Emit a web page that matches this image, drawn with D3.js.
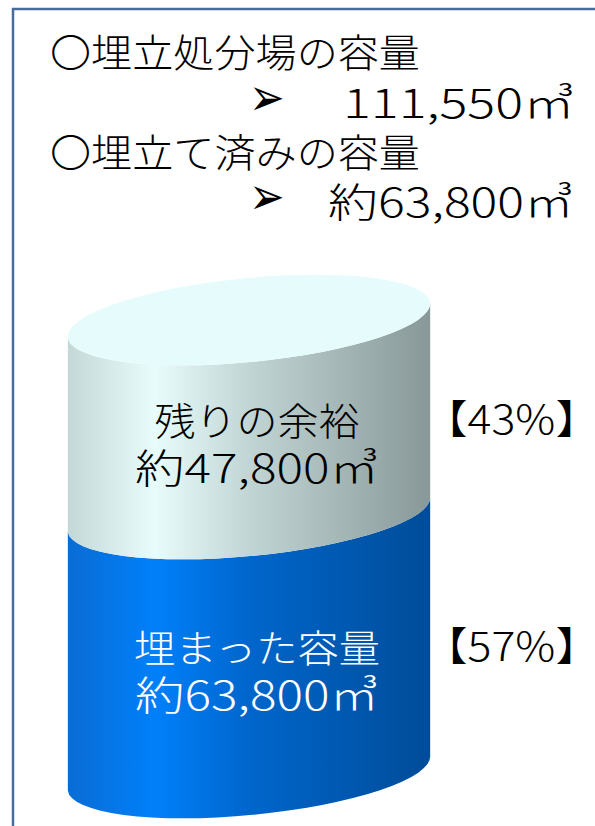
<!DOCTYPE html>
<html>
<head>
<meta charset="utf-8">
<script src="https://cdn.jsdelivr.net/npm/d3@7"></script>
<style>
  html, body { margin: 0; padding: 0; background: #fff; }
  svg { display: block; }
  text { font-family: "Noto Sans CJK JP", "Noto Sans", sans-serif; font-weight: 300; }
</style>
</head>
<body>
<div id="chart"></div>
<script>
//! ===== 0. Data =====
const headerLabels = ["〇埋立処分場の容量", "〇埋立て済みの容量"];
const headerValues = ["111,550㎥", "約63,800㎥"];

// bottom to top
const segmentNames = ["埋まった容量", "残りの余裕"];
const segmentVolumes = [63800, 47800];
const segmentValueLabels = ["約63,800㎥", "約47,800㎥"];
const segmentShares = ["【57%】", "【43%】"];

//! ===== I. Setup =====
const width = 595, height = 826;

const svg = d3.select("#chart")
    .append("svg")
    .attr("width", width)
    .attr("height", height);

// frame (runs off the right and bottom edges)
svg.append("rect")
    .attr("x", 13).attr("y", 9)
    .attr("width", 620).attr("height", 840)
    .attr("fill", "none")
    .attr("stroke", "#4a6c9c")
    .attr("stroke-width", 2.5);

// gradients for the cylinder sides
const defs = svg.append("defs");
function addGradient(id, stops){
    const g = defs.append("linearGradient")
        .attr("id", id)
        .attr("x1", "0%").attr("x2", "100%")
        .attr("y1", "0%").attr("y2", "0%");
    stops.forEach(([o, c]) => g.append("stop").attr("offset", o).attr("stop-color", c));
}
addGradient("grad-fill", [["0%", "#0a6cd4"], ["24%", "#0080fa"], ["50%", "#0066cc"], ["100%", "#004c98"]]);
addGradient("grad-free", [["0%", "#c4d8d8"], ["24%", "#e8fcfc"], ["50%", "#c2d5d5"], ["100%", "#889898"]]);
const sideFills = ["url(#grad-fill)", "url(#grad-free)"];
const textColors = ["#fff", "#000"];

//! ===== II. Scales =====
const total = d3.sum(segmentVolumes);
const y = d3.scaleLinear()
    .domain([0, total])
    .range([773, 320]);

// ellipse of the cylinder
const cx = 249, rx = 182, ry = 42, tilt = -5.5;
const rad = tilt * Math.PI / 180;
const dx = rx * Math.cos(rad), dy = rx * Math.sin(rad);

function sidePath(yLow, yHigh){
    const L = (yc) => [cx - dx, yc - dy];
    const R = (yc) => [cx + dx, yc + dy];
    const [lx1, ly1] = L(yHigh), [lx0, ly0] = L(yLow);
    const [rx0, ry0] = R(yLow), [rx1, ry1] = R(yHigh);
    return `M${lx1},${ly1} L${lx0},${ly0} ` +
        `A${rx},${ry} ${tilt} 0 0 ${rx0},${ry0} ` +
        `L${rx1},${ry1} ` +
        `A${rx},${ry} ${tilt} 0 1 ${lx1},${ly1} Z`;
}

//! ===== III. Cylinder =====
const stacked = [];
let acc = 0;
segmentVolumes.forEach((v, i) => {
    stacked.push({ i, y0: acc, y1: acc + v });
    acc += v;
});

svg.selectAll("path.side")
    .data(stacked)
    .enter()
    .append("path")
    .attr("class", "side")
    .attr("d", d => sidePath(y(d.y0), y(d.y1)))
    .attr("fill", d => sideFills[d.i]);

// top cap
svg.append("ellipse")
    .attr("cx", cx).attr("cy", y(total))
    .attr("rx", rx).attr("ry", ry)
    .attr("transform", `rotate(${tilt},${cx},${y(total)})`)
    .attr("fill", "#e6fcfc");

// labels inside the cylinder
stacked.forEach(d => {
    const mid = (y(d.y0) + y(d.y1)) / 2;
    svg.append("text")
        .attr("x", 257).attr("y", mid + 18)
        .attr("text-anchor", "middle")
        .attr("font-size", 38)
        .attr("lengthAdjust", "spacingAndGlyphs")
        .attr("textLength", d.i === 0 ? 246 : 205)
        .attr("fill", textColors[d.i])
        .text(segmentNames[d.i]);
    svg.append("text")
        .attr("x", 257).attr("y", mid + 66)
        .attr("text-anchor", "middle")
        .attr("font-size", 40)
        .attr("textLength", 244)
        .attr("lengthAdjust", "spacingAndGlyphs")
        .attr("fill", textColors[d.i])
        .text(segmentValueLabels[d.i]);
    svg.append("text")
        .attr("x", 423).attr("y", mid + 17)
        .attr("font-size", 40)
        .attr("textLength", 177)
        .attr("lengthAdjust", "spacingAndGlyphs")
        .attr("fill", "#000")
        .text(segmentShares[d.i]);
});

//! ===== IV. Header =====
const headerY = [67, 167];
const valueY = [118, 217];
const valueX = [343, 328];
const valueLen = [232, 246];

headerLabels.forEach((t, i) => {
    svg.append("text")
        .attr("x", 50).attr("y", headerY[i])
        .attr("font-size", 39)
        .attr("textLength", 370)
        .attr("lengthAdjust", "spacingAndGlyphs")
        .attr("fill", "#000")
        .text(t);
    svg.append("text")
        .attr("x", 249).attr("y", valueY[i] - 3)
        .attr("font-family", "DejaVu Sans")
        .attr("font-size", 52)
        .attr("textLength", 36)
        .attr("lengthAdjust", "spacingAndGlyphs")
        .attr("fill", "#000")
        .text("➢");
    svg.append("text")
        .attr("x", valueX[i]).attr("y", valueY[i])
        .attr("font-size", 40)
        .attr("textLength", valueLen[i])
        .attr("lengthAdjust", "spacingAndGlyphs")
        .attr("fill", "#000")
        .text(headerValues[i]);
});
</script>
</body>
</html>
